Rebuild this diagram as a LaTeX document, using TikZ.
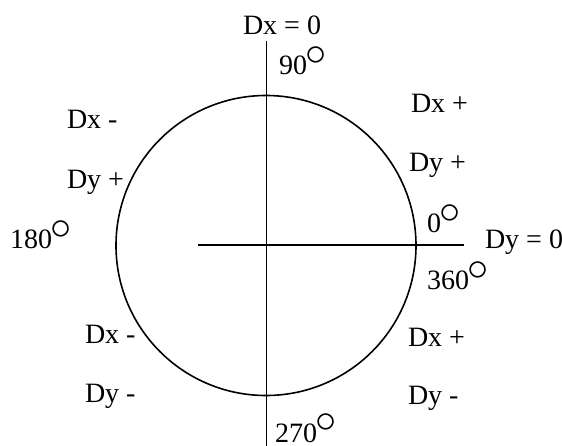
\documentclass[tikz,border=0pt]{standalone}
\usepackage{fontspec}
\usepackage{graphicx}
\setmainfont{Liberation Serif}
\newcommand{\dg}{\hspace{-2pt}\raisebox{9.5pt}{\scalebox{1.7}{$\circ$}}}
\tikzset{
  lbl/.style={anchor=base west, inner sep=0pt, outer sep=0pt, font=\fontsize{28}{30}\selectfont},
  axis/.style={line width=1.7pt},
}
\begin{document}
\begin{tikzpicture}[x=1pt,y=-1pt]
\useasboundingbox[fill=white] (0,0) rectangle (562,446);
% circle
\node[draw, circle, line width=1.6pt, minimum size=300pt, inner sep=0pt] (circ) at (266,245.5) {};
% axes
\coordinate (vtop) at (266.5,41);
\coordinate (vbot) at (266.5,446);
\coordinate (hleft) at (198,245);
\coordinate (hright) at (464,245);
\draw[axis] (vtop) -- (vbot);
\draw[axis] (hleft) -- (hright);
% labels
\node[lbl] (dx0) at (243,35) {Dx = 0};
\node[lbl] (a90) at (279,75) {90\dg};
\node[lbl] (dxp1) at (411,113) {Dx +};
\node[lbl] (dyp1) at (409,172) {Dy +};
\node[lbl] (dxm1) at (67,129) {Dx -};
\node[lbl] (dyp2) at (67,189) {Dy +};
\node[lbl] (a180) at (10,249) {180\dg};
\node[lbl] (a0) at (427,233) {0\dg};
\node[lbl] (dy0) at (485,249) {Dy = 0};
\node[lbl] (a360) at (427,290) {360\dg};
\node[lbl] (dxm2) at (85,343) {Dx -};
\node[lbl] (dym1) at (85,402) {Dy -};
\node[lbl] (dxp2) at (408,346) {Dx +};
\node[lbl] (dym2) at (408,404) {Dy -};
\node[lbl] (a270) at (275,442) {270\dg};
\end{tikzpicture}
\end{document}
